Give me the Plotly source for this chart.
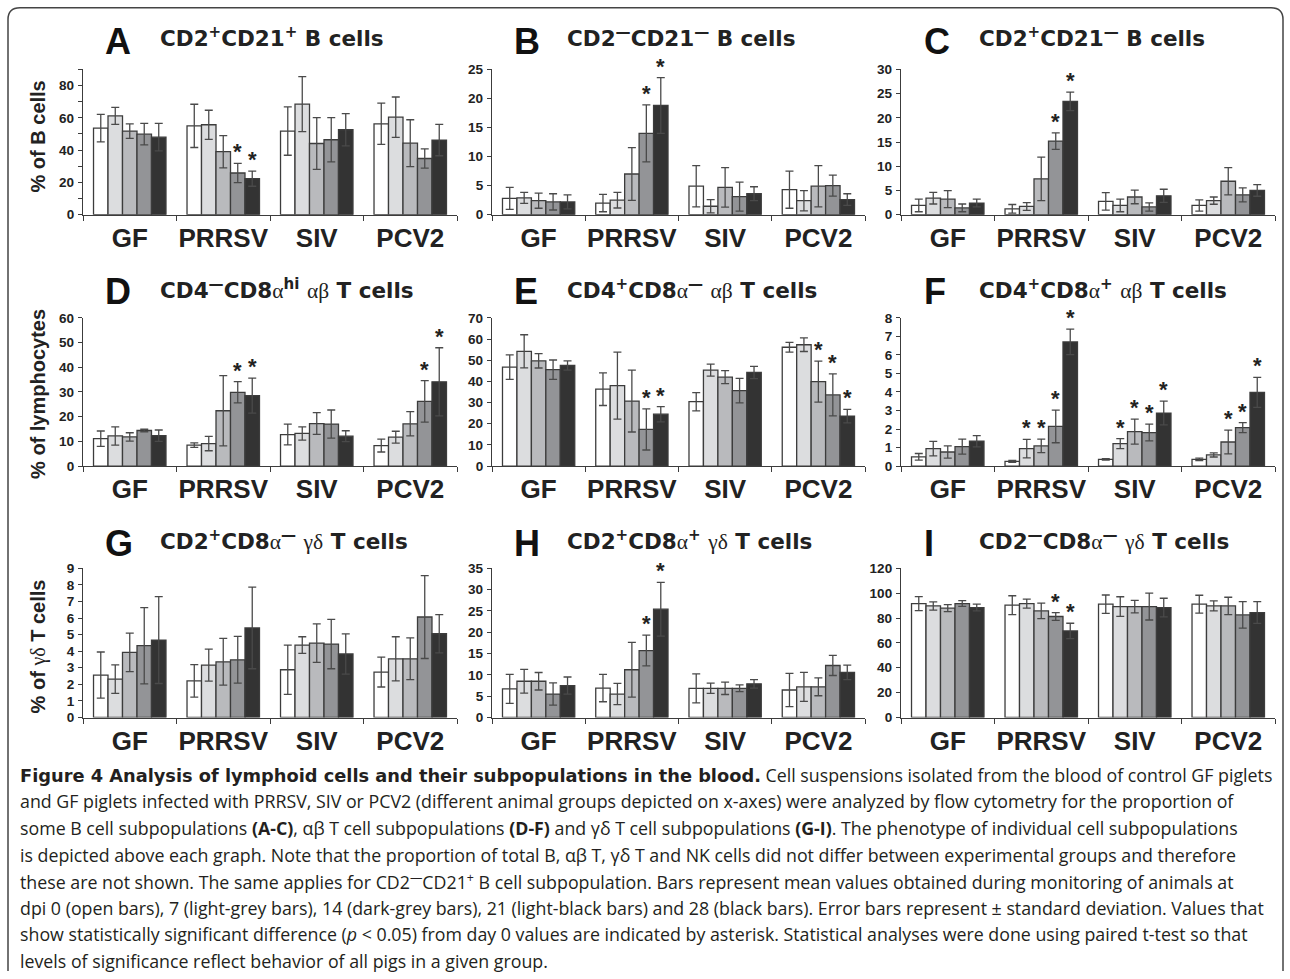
import plotly.graph_objects as go

W, H = 1290, 979

groups = ["GF", "PRRSV", "SIV", "PCV2"]
days = ["dpi 0", "dpi 7", "dpi 14", "dpi 21", "dpi 28"]
bar_colors = ["#ffffff", "#dcdddf", "#b9babd", "#939497", "#333333"]

# ---- data: rows = dpi 0, 7, 14, 21, 28 ; columns = GF, PRRSV, SIV, PCV2 ----
A_mean = [[53.6, 55.0, 51.8, 56.3], [61.2, 55.7, 68.5, 60.4], [51.8, 39.0, 44.1, 44.3], [49.9, 25.8, 46.4, 34.8], [48.0, 22.3, 52.6, 46.2]]
A_sd = [[8.5, 13.4, 15.0, 12.8], [5.3, 9.0, 17.0, 12.5], [4.5, 10.0, 16.0, 14.5], [6.6, 6.0, 13.7, 6.0], [8.5, 4.7, 10.0, 9.7]]
A_sig = [[0, 0, 0, 0], [0, 0, 0, 0], [0, 0, 0, 0], [0, 1, 0, 0], [0, 1, 0, 0]]

B_mean = [[2.8, 2.0, 4.9, 4.3], [2.9, 2.5, 1.45, 2.4], [2.4, 7.0, 4.7, 4.9], [2.2, 14.0, 3.1, 5.0], [2.2, 18.8, 3.6, 2.6]]
B_sd = [[1.9, 1.5, 3.55, 3.2], [0.95, 1.35, 1.15, 1.75], [1.3, 4.55, 3.4, 3.55], [1.4, 4.9, 2.5, 1.8], [1.2, 4.8, 1.2, 1.0]]
B_sig = [[0, 0, 0, 0], [0, 0, 0, 0], [0, 0, 0, 0], [0, 1, 0, 0], [0, 1, 0, 0]]

C_mean = [[1.9, 1.2, 2.75, 1.9], [3.4, 1.7, 1.9, 2.9], [3.2, 7.4, 3.65, 6.9], [1.4, 15.2, 1.6, 4.1], [2.4, 23.4, 3.9, 5.0]]
C_sd = [[1.3, 0.9, 1.8, 1.15], [1.2, 0.8, 1.3, 0.75], [1.75, 4.5, 1.4, 2.8], [0.8, 1.7, 0.85, 1.45], [0.8, 1.9, 1.35, 1.2]]
C_sig = [[0, 0, 0, 0], [0, 0, 0, 0], [0, 0, 0, 0], [0, 1, 0, 0], [0, 1, 0, 0]]

D_mean = [[11.1, 8.5, 12.75, 8.3], [12.2, 9.1, 13.2, 11.7], [11.8, 22.4, 17.2, 17.1], [14.4, 29.85, 17.0, 26.2], [12.3, 28.5, 12.1, 34.1]]
D_sd = [[3.1, 0.9, 4.2, 2.6], [3.7, 2.9, 2.7, 2.4], [1.7, 14.2, 4.4, 4.9], [0.5, 4.3, 5.7, 8.4], [2.3, 7.1, 2.2, 13.8]]
D_sig = [[0, 0, 0, 0], [0, 0, 0, 0], [0, 0, 0, 0], [0, 1, 0, 1], [0, 1, 0, 1]]

E_mean = [[46.7, 36.3, 30.4, 56.1], [54.2, 38.0, 45.3, 57.3], [49.7, 30.7, 42.0, 39.9], [45.5, 17.3, 35.6, 33.6], [47.5, 24.5, 44.2, 23.6]]
E_sd = [[5.8, 7.7, 4.3, 2.3], [7.8, 15.8, 2.8, 3.2], [3.4, 14.6, 3.1, 9.7], [4.6, 9.7, 5.8, 9.9], [2.2, 3.6, 2.9, 3.2]]
E_sig = [[0, 0, 0, 0], [0, 0, 0, 0], [0, 0, 0, 1], [0, 1, 0, 1], [0, 1, 0, 1]]

F_mean = [[0.5, 0.25, 0.36, 0.36], [0.94, 0.94, 1.21, 0.6], [0.76, 1.09, 1.86, 1.3], [1.05, 2.14, 1.81, 2.08], [1.34, 6.7, 2.86, 3.98]]
F_sd = [[0.18, 0.05, 0.04, 0.07], [0.39, 0.5, 0.27, 0.11], [0.33, 0.36, 0.67, 0.64], [0.4, 0.88, 0.45, 0.27], [0.3, 0.69, 0.64, 0.81]]
F_sig = [[0, 0, 0, 0], [0, 1, 1, 0], [0, 1, 1, 1], [0, 1, 1, 1], [0, 1, 1, 1]]

G_mean = [[2.56, 2.21, 2.88, 2.74], [2.32, 3.16, 4.37, 3.54], [3.93, 3.36, 4.49, 3.54], [4.33, 3.48, 4.43, 6.06], [4.67, 5.4, 3.83, 5.05]]
G_sd = [[1.39, 0.98, 1.48, 0.9], [0.86, 0.96, 0.5, 1.33], [1.16, 1.41, 1.16, 1.26], [2.3, 1.41, 1.49, 2.5], [2.62, 2.46, 1.21, 1.15]]
G_sig = [[0, 0, 0, 0], [0, 0, 0, 0], [0, 0, 0, 0], [0, 0, 0, 0], [0, 0, 0, 0]]

H_mean = [[6.7, 6.9, 6.85, 6.45], [8.5, 5.5, 6.85, 7.2], [8.5, 11.2, 6.85, 7.2], [5.5, 15.7, 6.85, 12.2], [7.5, 25.4, 7.9, 10.6]]
H_sd = [[3.4, 3.2, 3.4, 3.9], [2.8, 2.5, 1.2, 3.4], [2.05, 6.4, 1.45, 2.1], [2.6, 3.6, 0.8, 2.35], [2.0, 6.3, 1.0, 1.7]]
H_sig = [[0, 0, 0, 0], [0, 0, 0, 0], [0, 0, 0, 0], [0, 1, 0, 0], [0, 1, 0, 0]]

I_mean = [[91.6, 90.3, 91.1, 91.1], [89.7, 91.6, 89.2, 89.7], [87.9, 85.7, 89.2, 89.7], [91.6, 81.2, 89.2, 82.5], [88.4, 69.6, 88.4, 84.4]]
I_sd = [[5.6, 7.6, 7.4, 7.2], [3.3, 3.6, 7.9, 4.0], [2.8, 6.2, 5.0, 7.0], [2.3, 3.1, 10.8, 10.7], [2.7, 6.2, 7.5, 8.7]]
I_sig = [[0, 0, 0, 0], [0, 0, 0, 0], [0, 0, 0, 0], [0, 1, 0, 0], [0, 1, 0, 0]]

GR = '<span style="font-family:Liberation Serif;font-weight:normal">'
panel_titles = {
    "A": "CD2<sup>+</sup>CD21<sup>+</sup> B cells",
    "B": "CD2<sup>—</sup>CD21<sup>—</sup> B cells",
    "C": "CD2<sup>+</sup>CD21<sup>—</sup> B cells",
    "D": "CD4<sup>—</sup>CD8" + GR + "α</span><sup>hi</sup> " + GR + "αβ</span> T cells",
    "E": "CD4<sup>+</sup>CD8" + GR + "α</span><sup>—</sup> " + GR + "αβ</span> T cells",
    "F": "CD4<sup>+</sup>CD8" + GR + "α</span><sup>+</sup> " + GR + "αβ</span> T cells",
    "G": "CD2<sup>+</sup>CD8" + GR + "α</span><sup>—</sup> " + GR + "γδ</span> T cells",
    "H": "CD2<sup>+</sup>CD8" + GR + "α</span><sup>+</sup> " + GR + "γδ</span> T cells",
    "I": "CD2<sup>—</sup>CD8" + GR + "α</span><sup>—</sup> " + GR + "γδ</span> T cells",
}
y_titles = ["% of B cells", "% of lymphocytes", "% of " + GR + "γδ</span> T cells"]

panels = [
    ("A", A_mean, A_sd, A_sig, 90, 20, 10),
    ("B", B_mean, B_sd, B_sig, 25, 5, None),
    ("C", C_mean, C_sd, C_sig, 30, 5, None),
    ("D", D_mean, D_sd, D_sig, 60, 10, None),
    ("E", E_mean, E_sd, E_sig, 70, 10, None),
    ("F", F_mean, F_sd, F_sig, 8, 1, None),
    ("G", G_mean, G_sd, G_sig, 9, 1, None),
    ("H", H_mean, H_sd, H_sig, 35, 5, None),
    ("I", I_mean, I_sd, I_sig, 120, 20, None),
]

BOLDCAP = '<span style="font-family:DejaVu Sans;font-weight:bold">'
caption = [
    BOLDCAP + "Figure 4 Analysis of lymphoid cells and their subpopulations in the blood.</span> Cell suspensions isolated from the blood of control GF piglets",
    "and GF piglets infected with PRRSV, SIV or PCV2 (different animal groups depicted on x-axes) were analyzed by flow cytometry for the proportion of",
    "some B cell subpopulations <b>(A-C)</b>, αβ T cell subpopulations <b>(D-F)</b> and γδ T cell subpopulations <b>(G-I)</b>. The phenotype of individual cell subpopulations",
    "is depicted above each graph. Note that the proportion of total B, αβ T, γδ T and NK cells did not differ between experimental groups and therefore",
    "these are not shown. The same applies for CD2<sup>—</sup>CD21<sup>+</sup> B cell subpopulation. Bars represent mean values obtained during monitoring of animals at",
    "dpi 0 (open bars), 7 (light-grey bars), 14 (dark-grey bars), 21 (light-black bars) and 28 (black bars). Error bars represent ± standard deviation. Values that",
    "show statistically significant difference (<i>p</i> &lt; 0.05) from day 0 values are indicated by asterisk. Statistical analyses were done using paired t-test so that",
    "levels of significance reflect behavior of all pigs in a given group.",
]

# ---- layout geometry (target pixels in the final picture) ----
cols = [(83, 457), (492, 865), (901, 1275)]
rows = [(70, 215), (318, 466), (568, 717)]
letter_x = [103, 512, 922]
title_x = [158, 565, 977]
letter_y = [42, 291.5, 543]
title_y = [38, 289.5, 539.5]
ytitle_y = [137, 394, 646]
bw = 0.155

SANS = "Liberation Sans, Arial, sans-serif"
WIDE = "DejaVu Sans, Liberation Sans, sans-serif"
INK = "#222222"
EDGE = "#3c3c3c"
ERR = "#4a4a4a"

# the captured picture maps page y to 7.7 + 0.983*y; place things so they land on target
V_OFF, V_SCALE = 7.7, 0.983


def fx(p):
    return p / W


def fy(p):
    page = (p - V_OFF) / V_SCALE
    return 1 - page / H


fig = go.Figure()
layout = dict(
    width=W, height=H, autosize=False,
    margin=dict(l=0, r=0, t=0, b=0),
    paper_bgcolor="white", plot_bgcolor="white",
    barmode="overlay", showlegend=False,
    font=dict(family=SANS, color=INK),
)
annotations = []

for k, (letter, mean, sd, sig, ymax, dtick, minor_dt) in enumerate(panels):
    r, c = divmod(k, 3)
    sfx = "" if k == 0 else str(k + 1)
    xa, ya = "x" + sfx, "y" + sfx
    for d in range(5):
        xs = [g + (d - 2) * bw for g in range(4)]
        fig.add_trace(go.Bar(
            x=xs, y=mean[d], width=bw, name=days[d],
            marker=dict(color=bar_colors[d], line=dict(color=EDGE, width=1.3)),
            error_y=dict(type="data", array=sd[d], visible=True, color=ERR, thickness=1.3, width=4),
            xaxis=xa, yaxis=ya, showlegend=False,
        ))
    for d in range(5):
        for g in range(4):
            if sig[d][g]:
                annotations.append(dict(
                    text="<b>*</b>", x=g + (d - 2) * bw, y=mean[d][g] + sd[d][g],
                    xref=xa, yref=ya, xanchor="center", yanchor="bottom", yshift=-3,
                    showarrow=False, font=dict(family=SANS, size=22, color=INK),
                ))
    x0, x1 = cols[c]
    y0, y1 = rows[r]
    xkey = "xaxis" + sfx
    ykey = "yaxis" + sfx
    layout[xkey] = dict(
        domain=[fx(x0), fx(x1)], range=[-0.5, 3.5], anchor=ya,
        tickmode="array", tickvals=[0, 1, 2, 3], ticktext=groups, ticks="",
        tickfont=dict(family=SANS, size=26, color=INK, weight="bold"),
        ticklabelstandoff=0,
        showline=True, linecolor=EDGE, linewidth=1.3,
        showgrid=False, zeroline=False, fixedrange=True,
        minor=dict(tickmode="array", tickvals=[-0.5, 0.5, 1.5, 2.5, 3.5], ticks="outside",
                   ticklen=5, tickwidth=1.3, tickcolor=EDGE, showgrid=False),
    )
    yax = dict(
        domain=[fy(y1), fy(y0)], range=[0, ymax], anchor=xa,
        tickmode="linear", tick0=0, dtick=dtick, ticks="outside", ticklen=4,
        tickwidth=1.3, tickcolor=EDGE,
        tickfont=dict(family=SANS, size=13.5, color=INK, weight="bold"),
        ticklabelstandoff=1,
        showline=True, linecolor=EDGE, linewidth=1.3,
        showgrid=False, zeroline=False, fixedrange=True,
    )
    if minor_dt:
        yax["minor"] = dict(dtick=minor_dt, tick0=0, ticks="outside", ticklen=4,
                            tickwidth=1.3, tickcolor=EDGE, showgrid=False)
    layout[ykey] = yax

    annotations.append(dict(
        text="<b>" + letter + "</b>", x=fx(letter_x[c]), y=fy(letter_y[r]),
        xref="paper", yref="paper", xanchor="left", yanchor="middle", showarrow=False,
        font=dict(family=SANS, size=36, color="#111111"),
    ))
    annotations.append(dict(
        text="<b>" + panel_titles[letter] + "</b>", x=fx(title_x[c]), y=fy(title_y[r]),
        xref="paper", yref="paper", xanchor="left", yanchor="middle", showarrow=False,
        font=dict(family=WIDE, size=21.5, color=INK),
    ))
    if c == 0:
        annotations.append(dict(
            text="<b>" + y_titles[r] + "</b>", x=fx(38), y=fy(ytitle_y[r]),
            xref="paper", yref="paper", xanchor="center", yanchor="middle", showarrow=False,
            textangle=-90, font=dict(family=SANS, size=20, color=INK),
        ))

cap_y0, cap_dy = 774, 26.6
for i, line in enumerate(caption):
    annotations.append(dict(
        text=line, x=fx(18), y=fy(cap_y0 + i * cap_dy),
        xref="paper", yref="paper", xanchor="left", yanchor="middle", showarrow=False,
        font=dict(family="Open Sans, Noto Sans, sans-serif", size=17.8, color="#231f20"),
    ))

# rounded frame round the figure; its lower edge lies below the picture, so only the sides show
L, R, rad = 8, 1283, 12
T_pg, B_pg = 0.8, 979
rx, ry = rad / W, rad / H
l, r_ = L / W, R / W
t, b = 1 - T_pg / H, 1 - B_pg / H
path = (f"M {l},{b} L {l},{t - ry} Q {l},{t} {l + rx},{t} L {r_ - rx},{t} "
        f"Q {r_},{t} {r_},{t - ry} L {r_},{b}")
layout["shapes"] = [dict(type="path", path=path, xref="paper", yref="paper",
                         line=dict(color="#444444", width=1.5), fillcolor="rgba(0,0,0,0)")]
layout["annotations"] = annotations
fig.update_layout(**layout)
fig.write_html("out.html", config={"displayModeBar": False},
               post_script="document.body.style.margin='0';document.body.style.overflow='hidden';")
